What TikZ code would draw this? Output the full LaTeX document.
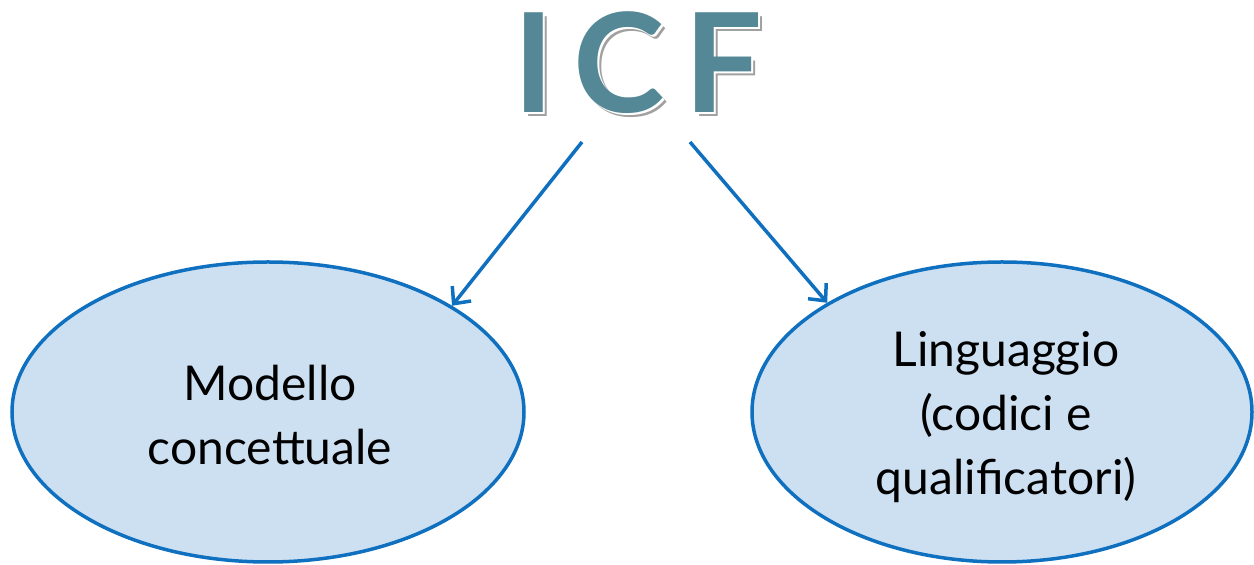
\documentclass[tikz,border=0pt]{standalone}
\usepackage{fontspec}
\setmainfont{Lato}
\newfontfamily\titlefont[LetterSpace=14]{Lato}
\usetikzlibrary{arrows.meta,shapes.geometric}
\definecolor{ellfill}{RGB}{205,224,242}
\definecolor{ellline}{RGB}{16,112,192}
\definecolor{icfteal}{RGB}{84,136,150}
\definecolor{icfshadow}{RGB}{160,160,160}
\tikzset{
  concept/.style={ellipse, draw=ellline, fill=ellfill, line width=3.5pt, inner sep=0pt},
  label/.style={align=center, font=\fontsize{48}{64}\selectfont},
  link/.style={draw=ellline, line width=3.5pt, -{Straight Barb[length=13pt,width=24pt,line width=3.5pt]}},
  titletext/.style={font=\titlefont\bfseries\fontsize{138}{138}\selectfont},
}
\begin{document}
\begin{tikzpicture}[x=1pt,y=1pt]
\useasboundingbox (0,0) rectangle (1254,565);
% title: grey drop shadow, white rim, teal face
\node[titletext, text=icfshadow] (icfsh) at (642,498) {ICF};
\node[titletext, text=white] (icfrim) at (640,500) {ICF};
\node[titletext, text=icfteal] (icf) at (638,502) {ICF};
% the two branches
\node[concept, minimum width=512pt, minimum height=300pt] (model) at (268,153) {};
\node[concept, minimum width=500pt, minimum height=300pt] (lang) at (1002,153) {};
\node[label] (modeltxt) at (270,150) {Modello\\concettuale};
\node[label] (langtxt) at (1006,148) {Linguaggio\\(codici e\\qualificatori)};
\coordinate (srcL) at (582,423);
\coordinate (srcR) at (690,423);
\draw[link] (srcL) -- (model.30.5);
\draw[link] (srcR) -- (lang.148.4);
\end{tikzpicture}
\end{document}
